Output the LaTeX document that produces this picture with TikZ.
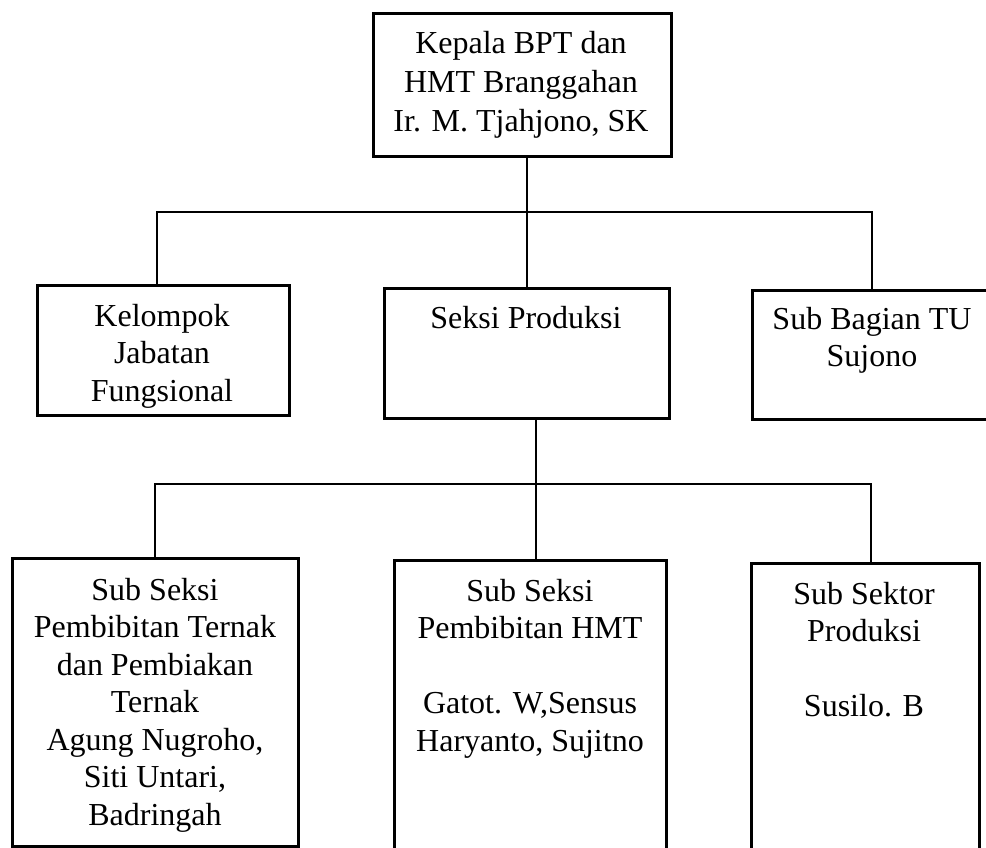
\documentclass[tikz,border=0pt]{standalone}
\usepackage{fontspec}
\setmainfont{Liberation Serif}

\begin{document}
\begin{tikzpicture}[x=1pt, y=-1pt,
		kotak/.style={draw, line width=2.6pt, anchor=north west, inner sep=0pt},
		teks/.style={align=center, anchor=north, inner sep=0pt, font=\fontsize{32}{37.5}\selectfont},
		garis/.style={line width=2pt}]
		\useasboundingbox (0, 0) rectangle (986, 847);

		\coordinate (kiri1) at (157, 212);
		\coordinate (tengah1) at (527, 212);
		\coordinate (kanan1) at (872, 212);
		\coordinate (kiri2) at (155, 484);
		\coordinate (tengah2) at (536, 484);
		\coordinate (kanan2) at (871, 484);

		% kotak
		\node[kotak, minimum width=298pt, minimum height=143pt] (kepala) at (372, 12) {};
		\node[kotak, minimum width=252pt, minimum height=130pt] (kelompok) at (36, 284) {};
		\node[kotak, minimum width=285pt, minimum height=130pt] (seksi) at (383, 287) {};
		\node[kotak, minimum width=260pt, minimum height=129pt] (subbag) at (751, 289) {};
		\node[kotak, minimum width=286pt, minimum height=288pt] (ternak) at (11, 557) {};
		\node[kotak, minimum width=272pt, minimum height=300pt] (hmt) at (393, 559) {};
		\node[kotak, minimum width=228pt, minimum height=300pt] (sektor) at (750, 562) {};

		% teks
		\node[teks, font=\fontsize{32}{39}\selectfont] (kepala-t) at (521, 31) {Kepala BPT dan\\HMT Branggahan\\Ir. M. Tjahjono, SK};
		\node[teks] (kelompok-t) at (162, 304) {Kelompok\\Jabatan\\Fungsional};
		\node[teks] (seksi-t) at (526, 306) {Seksi Produksi};
		\node[teks] (subbag-t) at (872, 307) {Sub Bagian TU\\Sujono};
		\node[teks] (ternak-t) at (155, 578) {Sub Seksi\\Pembibitan Ternak\\dan Pembiakan\\Ternak\\Agung Nugroho,\\Siti Untari,\\Badringah};
		\node[teks] (hmt-t) at (530, 579) {Sub Seksi\\Pembibitan HMT\\[37.5pt]Gatot. W,Sensus\\Haryanto, Sujitno};
		\node[teks] (sektor-t) at (864, 582) {Sub Sektor\\Produksi\\[37.5pt]Susilo. B};

		% garis
		\draw[garis] (kepala.south -| tengah1) -- (seksi.north -| tengah1);
		\draw[garis] (kelompok.north -| kiri1) -- (kiri1) -- (kanan1) -- (subbag.north -| kanan1);
		\draw[garis] (seksi.south -| tengah2) -- (hmt.north -| tengah2);
		\draw[garis] (ternak.north -| kiri2) -- (kiri2) -- (kanan2) -- (sektor.north -| kanan2);
	\end{tikzpicture}
\end{document}
